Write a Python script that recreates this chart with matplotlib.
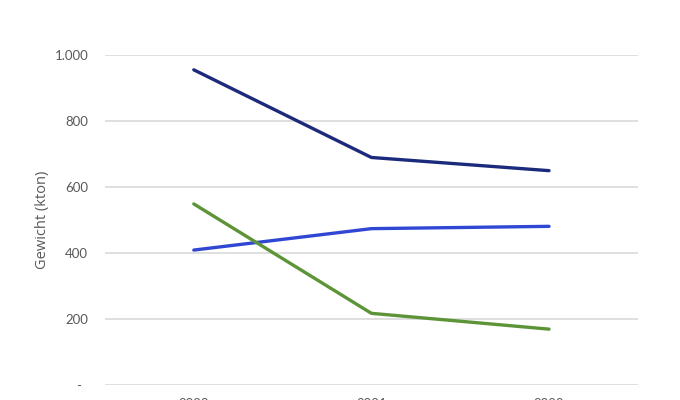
import matplotlib
matplotlib.use("Agg")
import matplotlib.pyplot as plt
from matplotlib.ticker import FuncFormatter

# ---- Data ----
years = ["2020", "2021", "2022"]
series_navy = [955, 689, 649]
series_blue = [408, 473, 480]
series_green = [548, 216, 168]

NAVY = "#1C2A7C"
BLUE = "#3047D4"
GREEN = "#5E9438"
GRAY_TXT = "#595959"
GRID = "#D9D9D9"

plt.rcParams["font.family"] = ["Lato", "DejaVu Sans"]

fig = plt.figure(figsize=(6.8, 4.0), dpi=100)
ax = fig.add_axes([0.1544, 0.03875, 0.7836, 0.82375])

x = list(range(len(years)))
ax.plot(x, series_navy, color=NAVY, linewidth=2.4, solid_capstyle="round")
ax.plot(x, series_blue, color=BLUE, linewidth=2.4, solid_capstyle="round")
ax.plot(x, series_green, color=GREEN, linewidth=2.4, solid_capstyle="round")

ax.set_xlim(-0.5, 2.5)
ax.set_ylim(0, 1000)
ax.set_yticks([0, 200, 400, 600, 800, 1000])


def fmt(v, pos):
    # Excel accounting style: zero shown as a dash, dot as thousands separator
    if v == 0:
        return "-  "
    return f"{int(v):,}".replace(",", ".")


ax.yaxis.set_major_formatter(FuncFormatter(fmt))
ax.set_xticks(x)
ax.set_xticklabels(years)

for s in ax.spines.values():
    s.set_visible(False)
ax.grid(axis="y", color=GRID, linewidth=1.2)
ax.set_axisbelow(True)
ax.tick_params(axis="both", length=0, labelsize=9.5, colors=GRAY_TXT)
ax.tick_params(axis="y", pad=12)
ax.tick_params(axis="x", pad=10)

ax.set_ylabel("Gewicht (kton)", fontsize=10.5, color=GRAY_TXT, labelpad=3,
              family=["Open Sans", "DejaVu Sans"])

fig.savefig("out.png", dpi=100)
